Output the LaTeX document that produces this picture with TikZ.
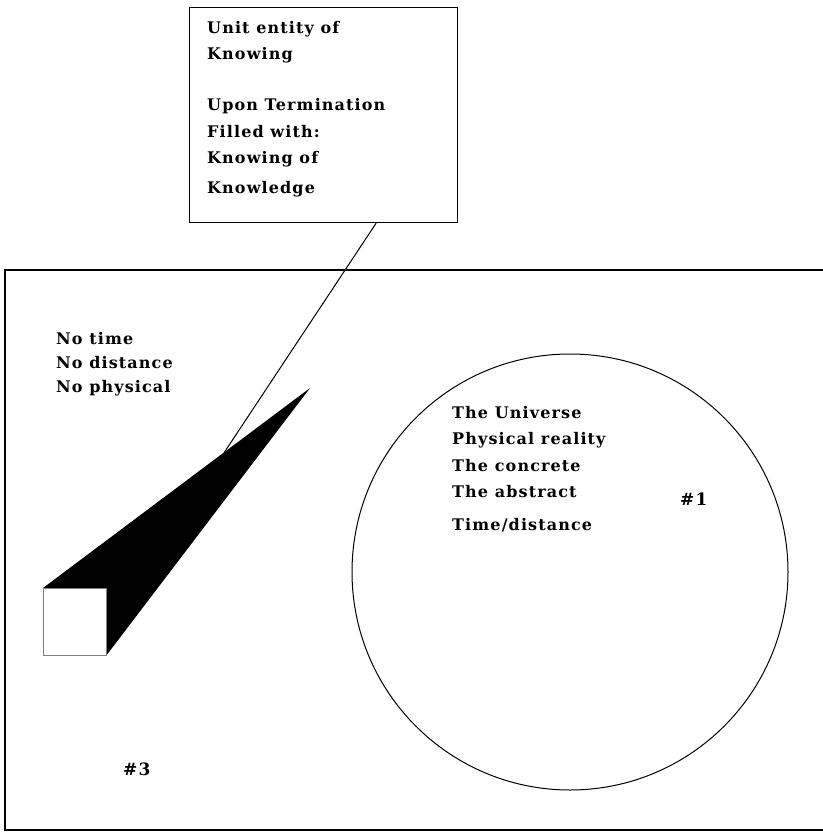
\documentclass[tikz,border=0pt]{standalone}
\usepackage{fontspec}
\setmainfont{DejaVu Serif}[LetterSpace=7]
\usetikzlibrary{positioning, calc}

\begin{document}
\begin{tikzpicture}[
    x=1pt, y=-1pt,
    txt/.style={anchor=base west, align=left, inner sep=0pt, font=\fontsize{16}{26.5}\selectfont\bfseries},
    num/.style={anchor=base west, inner sep=0pt, font=\fontsize{17}{18}\selectfont\bfseries},
    frame/.style={draw=black, line width=1.2pt},
    link/.style={draw=black, line width=1pt}
]
\useasboundingbox (0,0) rectangle (822,832);

% Rahmen
\draw[frame] (840,270) -- (5,270) -- (5,830) -- (840,830);

% Kasten oben
\node[draw, line width=1.2pt, minimum width=268, minimum height=215, inner sep=0, anchor=north west] (knowbox) at (189,7) {};
\node[txt] (knowtxt) at (207,193) {Unit entity of\\Knowing\\[24.5pt]Upon Termination\\Filled with:\\Knowing of\\[3pt]Knowledge};

% Texte links
\node[txt, font=\fontsize{16}{24}\selectfont\bfseries] (notxt) at (56,392) {No time\\No distance\\No physical};

% Keil und Wuerfel
\coordinate (tip) at (310,388);
\node[minimum width=63, minimum height=67, inner sep=0, anchor=north west] (cube) at (43,588) {};
\fill (cube.north west) -- (tip) -- (cube.south east) -- (cube.north east) -- cycle;
\node[draw=gray, fill=white, line width=1pt, minimum width=63, minimum height=67, inner sep=0, anchor=north west] at (43,588) {};

% Kreis
\node[draw, circle, minimum size=436, inner sep=0, line width=1pt] (universe) at (570,572) {};
\node[txt] (unitxt) at (452,530) {The Universe\\Physical reality\\The concrete\\The abstract\\[6pt]Time/distance};

% Nummern
\node[num] (one) at (680,505) {\#1};
\node[num] (three) at (123,775) {\#3};

% Verbindung
\coordinate (boxfoot) at ($(knowbox.south west)!0.695!(knowbox.south east)$);
\coordinate (wedgept) at ($(cube.north west)!0.68!(tip)$);
\draw[link] (boxfoot) -- (wedgept);

\end{tikzpicture}
\end{document}
